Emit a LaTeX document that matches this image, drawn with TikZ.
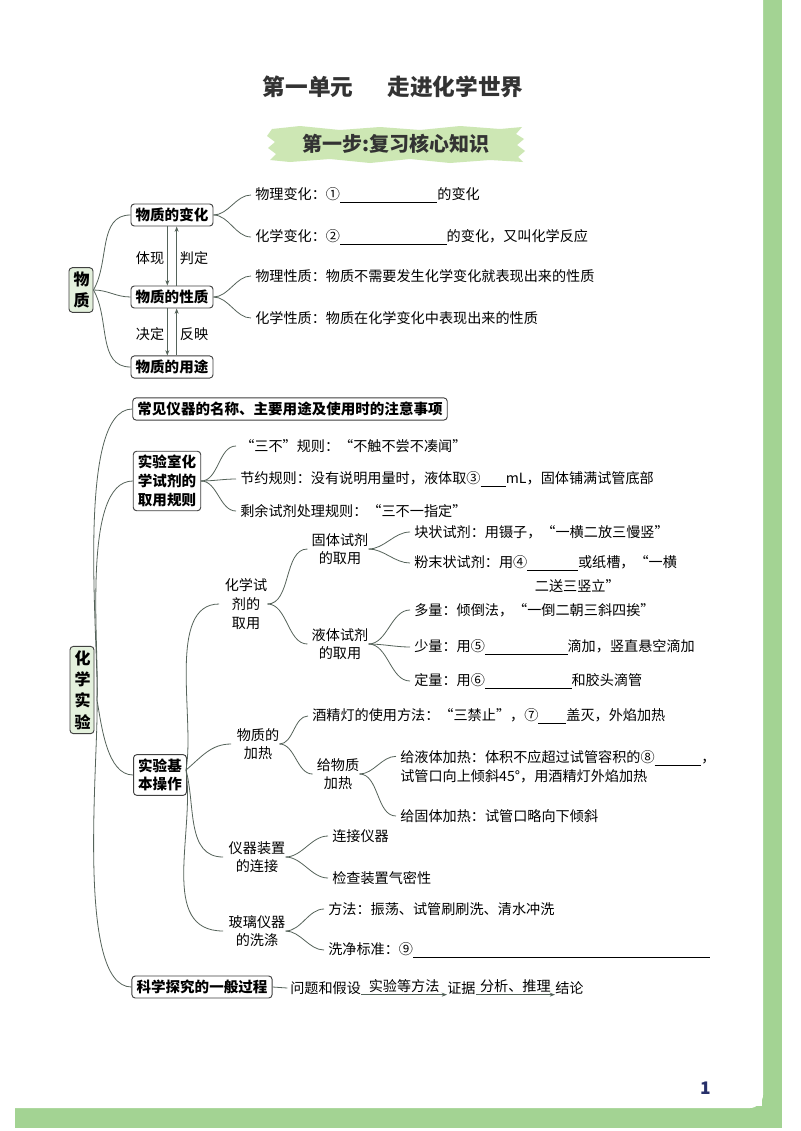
\documentclass[tikz,border=0pt]{standalone}
\usepackage{fontspec}
\setmainfont{Noto Sans CJK SC}
\usetikzlibrary{calc,arrows.meta}
\definecolor{pagegreen}{HTML}{A3D393}
\definecolor{boxgreen}{HTML}{E4F1DD}
\definecolor{bannergreen}{HTML}{CDE7B4}
\definecolor{conn}{HTML}{55635A}
\definecolor{navy}{HTML}{27306A}
\newcommand\blank[1]{\rule[-2pt]{#1pt}{0.5pt}}
\begin{document}
\begin{tikzpicture}[x=0.75pt,y=0.75pt,
  every node/.style={inner sep=0pt,font=\fontsize{10.6pt}{14pt}\selectfont},
  txt/.style={anchor=west},
  mid/.style={align=center},
  box/.style={draw=black!75,line width=0.7pt,rounded corners=2.5pt,fill=white,inner xsep=3.5pt,inner ysep=3pt,font=\fontsize{10.9pt}{14pt}\selectfont\bfseries,align=center},
  gbox/.style={box,fill=boxgreen,font=\fontsize{12pt}{16pt}\selectfont\bfseries},
  cn/.style={draw=conn,line width=0.6pt},
  br/.style={cn,out=0,in=180,looseness=0.9}]
\useasboundingbox (0,0) rectangle (800,-1131);
\fill[white] (0,0) rectangle (800,-1131);
\fill[pagegreen] (762,8) rectangle (782,-1128);
\fill[pagegreen] (15,-1106) rectangle (782,-1128);
\fill[white,rounded corners=10pt] (-20,20) rectangle (763,-1108);
% title
\node[font=\fontsize{17pt}{20pt}\selectfont\bfseries,text=black!80] (title) at (393,-87) {第一单元\hspace{1.5em}走进化学世界};
\fill[bannergreen] (272,-129) -- (300,-126) -- (340,-130) -- (380,-127) -- (420,-130) -- (460,-126) -- (500,-129) -- (522,-127)
  -- (516,-134) -- (524,-139) -- (517,-145) -- (525,-151) -- (518,-157) -- (523,-162)
  -- (490,-160) -- (450,-163) -- (410,-159) -- (370,-163) -- (330,-159) -- (290,-162) -- (270,-160)
  -- (276,-154) -- (268,-148) -- (275,-142) -- (267,-136) -- cycle;
\node[font=\fontsize{15pt}{18pt}\selectfont\bfseries,text=black!80] (banner) at (396,-144) {第一步:复习核心知识};
% ===== 物质 =====
\node[gbox,minimum height=44pt*0.75,text width=11pt] (wz) at (81,-290) {物\\质};
\node[box] (bh) at (172,-215) {物质的变化};
\node[box] (xz) at (172,-297) {物质的性质};
\node[box] (yt) at (172,-367) {物质的用途};
\draw[cn] (wz.east) to[out=60,in=180] (bh.west);
\draw[cn] (wz.east) to[out=0,in=180] (xz.west);
\draw[cn] (wz.east) to[out=-60,in=180] (yt.west);
\draw[cn,-{Stealth[length=4pt,width=3pt]}] ([xshift=-3.5]bh.south) -- ([xshift=-3.5]xz.north);
\draw[cn,-{Stealth[length=4pt,width=3pt]}] ([xshift=3.5]xz.north) -- ([xshift=3.5]bh.south);
\draw[cn,-{Stealth[length=4pt,width=3pt]}] ([xshift=-3.5]xz.south) -- ([xshift=-3.5]yt.north);
\draw[cn,-{Stealth[length=4pt,width=3pt]}] ([xshift=3.5]yt.north) -- ([xshift=3.5]xz.south);
\node (l1) at (150,-258) {体现};
\node (l2) at (194,-258) {判定};
\node (l3) at (150,-334) {决定};
\node (l4) at (194,-334) {反映};
\node[txt] (t1) at (255,-195) {物理变化：①\blank{73}的变化};
\node[txt] (t2) at (255,-237) {化学变化：②\blank{80}的变化，又叫化学反应};
\node[txt] (t3) at (255,-276) {物理性质：物质不需要发生化学变化就表现出来的性质};
\node[txt] (t4) at (255,-318) {化学性质：物质在化学变化中表现出来的性质};
\foreach \a/\b in {bh/t1,bh/t2,xz/t3,xz/t4}
  \draw[br] (\a.east) to ([xshift=-3]\b.west);
% ===== 化学实验 =====
\node[gbox,text width=11pt] (hx) at (82,-690) {化\\学\\实\\验};
\node[box] (cj) at (290,-409) {常见仪器的名称、主要用途及使用时的注意事项};
\node[box] (sy) at (167,-481) {实验室化\\学试剂的\\取用规则};
\node[box] (jb) at (160,-775) {实验基\\本操作};
\node[box] (kx) at (202,-987) {科学探究的一般过程};
\coordinate (hxo) at (97,-700);
\draw[cn] (hxo) to[out=88,in=180,looseness=0.5] (cj.west);
\draw[cn] (hxo) to[out=87,in=180,looseness=0.6] (sy.west);
\draw[cn] (hxo) to[out=-80,in=180,looseness=0.8] (jb.west);
\draw[cn] (hxo) to[out=-88,in=180,looseness=0.5] (kx.west);
\node[txt] (s1) at (240,-446) {“三不”规则：“不触不尝不凑闻”};
\node[txt] (s2) at (240,-479) {节约规则：没有说明用量时，液体取③\blank{19}mL，固体铺满试管底部};
\node[txt] (s3) at (240,-511) {剩余试剂处理规则：“三不一指定”};
\foreach \b in {s1,s2,s3} \draw[br] (sy.east) to ([xshift=-3]\b.west);
% 基本操作 children
\node[mid] (qy) at (246,-604) {化学试\\剂的\\取用};
\node[mid] (jr) at (258,-744) {物质的\\加热};
\node[mid] (lj) at (257,-857) {仪器装置\\的连接};
\node[mid] (xd) at (257,-931) {玻璃仪器\\的洗涤};
\coordinate (jbo) at (186,-770);
\draw[cn] (jbo) to[out=80,in=180,looseness=0.8] ([xshift=-4]qy.west);
\draw[cn] (jbo) to[out=40,in=180] ([xshift=-4]jr.west);
\draw[cn] (jbo) to[out=-75,in=180] ([xshift=-4]lj.west);
\draw[cn] (jbo) to[out=-82,in=180] ([xshift=-4]xd.west);
% 取用
\node[mid] (gt) at (340,-549) {固体试剂\\的取用};
\node[mid] (yq) at (340,-644) {液体试剂\\的取用};
\draw[br] (qy.east) to ([xshift=-3]gt.west);
\draw[br] (qy.east) to ([xshift=-3]yq.west);
\node[txt] (g1) at (414,-532) {块状试剂：用镊子，“一横二放三慢竖”};
\node[txt] (g2) at (414,-563) {粉末状试剂：用④\blank{38}或纸槽，“一横};
\node[anchor=east] (g2b) at (620,-586) {二送三竖立”};
\draw[br] (gt.east) to ([xshift=-3]g1.west);
\draw[br] (gt.east) to ([xshift=-3]g2.west);
\node[txt] (y1) at (414,-610) {多量：倾倒法，“一倒二朝三斜四挨”};
\node[txt] (y2) at (414,-647) {少量：用⑤\blank{62}滴加，竖直悬空滴加};
\node[txt] (y3) at (414,-681) {定量：用⑥\blank{65}和胶头滴管};
\foreach \b in {y1,y2,y3} \draw[br] (yq.east) to ([xshift=-3]\b.west);
% 加热
\node[txt] (j1) at (312,-716) {酒精灯的使用方法：“三禁止”，⑦\blank{21}盖灭，外焰加热};
\node[mid] (gw) at (338,-774) {给物质\\加热};
\draw[br] (jr.east) to ([xshift=-3]j1.west);
\draw[br] (jr.east) to ([xshift=-3]gw.west);
\node[txt,align=left] (w1) at (400,-767) {给液体加热：体积不应超过试管容积的⑧\blank{35}，\\试管口向上倾斜45°，用酒精灯外焰加热};
\node[txt] (w2) at (400,-816) {给固体加热：试管口略向下倾斜};
\draw[br] (gw.east) to ([xshift=-3,yshift=8]w1.west);
\draw[br] (gw.east) to ([xshift=-3]w2.west);
% 连接
\node[txt] (c1) at (332,-836) {连接仪器};
\node[txt] (c2) at (332,-878) {检查装置气密性};
\draw[br] (lj.east) to ([xshift=-3]c1.west);
\draw[br] (lj.east) to ([xshift=-3]c2.west);
% 洗涤
\node[txt] (x1) at (328,-909) {方法：振荡、试管刷刷洗、清水冲洗};
\node[txt] (x2) at (328,-950) {洗净标准：⑨\blank{223}};
\draw[br] (xd.east) to ([xshift=-3]x1.west);
\draw[br] (xd.east) to ([xshift=-3]x2.west);
% 科学探究
\node[txt] (p1) at (290,-988) {问题和假设};
\node[txt] (p2) at (447,-988) {证据};
\node[txt] (p3) at (555,-988) {结论};
\draw[cn] (kx.east) -- ([xshift=-2]p1.west);
\draw[cn,-{Stealth[length=4pt,width=3pt]}] ([yshift=-5]p1.east) -- node[above=1pt]{实验等方法} ([yshift=-5]p2.west);
\draw[cn,-{Stealth[length=4pt,width=3pt]}] ([yshift=-5]p2.east) -- node[above=1pt]{分析、推理} ([yshift=-5]p3.west);
% page number
\node[font=\fontsize{13pt}{15pt}\selectfont\bfseries,text=navy] (pn) at (706,-1088) {1};
\end{tikzpicture}
\end{document}
